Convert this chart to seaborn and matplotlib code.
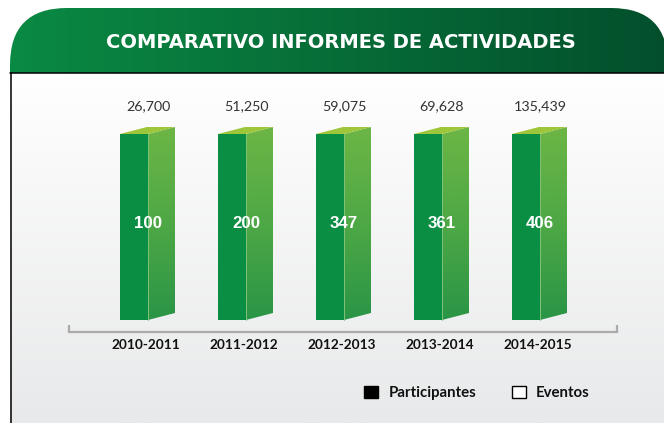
import numpy as np
import matplotlib
matplotlib.use("Agg")
import matplotlib.pyplot as plt
import seaborn as sns
import pandas as pd
from matplotlib.patches import Polygon, FancyBboxPatch, Patch
from matplotlib.colors import LinearSegmentedColormap

# ---- data ----
periodos = ["2010-2011", "2011-2012", "2012-2013", "2013-2014", "2014-2015"]
participantes = [26700, 51250, 59075, 69628, 135439]
eventos = [100, 200, 347, 361, 406]
altura_columna = [1, 1, 1, 1, 1]  # columns are drawn at a uniform height
titulo = "COMPARATIVO INFORMES DE ACTIVIDADES"
leyenda = ["Participantes", "Eventos"]

sns.set_theme(style="white")
plt.rcParams["font.family"] = ["Lato", "DejaVu Sans"]

W, H = 664, 423
fig = plt.figure(figsize=(W / 100, H / 100), dpi=100)
fig.patch.set_facecolor("white")

# ---- background layer in pixel units ----
bg = fig.add_axes([0, 0, 1, 1], zorder=0)
bg.axis("off")

verde_cab = LinearSegmentedColormap.from_list("cab", ["#0a8a43", "#034f2c"])
cabecera = FancyBboxPatch((10, 8), 658, 150,
                          boxstyle="round,pad=0,rounding_size=57",
                          facecolor="none", edgecolor="none")
bg.add_patch(cabecera)
grad_h = np.linspace(0, 1, 256).reshape(1, -1)
im_cab = bg.imshow(grad_h, cmap=verde_cab, extent=(10, 668, 158, 8),
                   aspect="auto", interpolation="bilinear", zorder=1)
im_cab.set_clip_path(cabecera)

fondo = LinearSegmentedColormap.from_list("fondo", ["#ffffff", "#e8e9ea"])
grad_v = np.linspace(0, 1, 256).reshape(-1, 1)
bg.imshow(grad_v, cmap=fondo, extent=(10, 664, 423, 73), origin="upper",
          aspect="auto", interpolation="bilinear", zorder=2)
bg.plot([10, 664], [73.5, 73.5], color="black", lw=1.1, zorder=3)
bg.plot([10.5, 10.5], [73, 423], color="black", lw=1.1, zorder=3)
bg.set_xlim(0, W)
bg.set_ylim(H, 0)

fig.text(340.5 / W, 1 - 48 / H, titulo, color="white", fontsize=14,
         fontweight="bold", family="DejaVu Sans", ha="center", va="baseline")

# ---- columns ----
ax = fig.add_axes([69 / W, 1 - 332 / H, 548 / W, 242 / H], zorder=1)
ax.patch.set_alpha(0)
df = pd.DataFrame({"periodo": periodos, "altura": altura_columna})
ancho = 28 / 98
sns.barplot(data=df, x="periodo", y="altura", width=ancho, color="#0a8e44",
            saturation=1, linewidth=0, ax=ax, zorder=3)
ax.set_xlim(-0.6633, 4.9286)
ax.set_ylim(-12 / 186, 230 / 186)

# depth offset of the 3-D faces, converted from pixels to data units
origen = ax.transData.transform((0, 0))
dx, dy = ax.transData.inverted().transform(origen + np.array([27, 7]))

lateral = LinearSegmentedColormap.from_list("lat", ["#2a9547", "#4ea845", "#6cb645"])
for i, p in enumerate(ax.patches):
    x0 = p.get_x()
    x1 = x0 + p.get_width()
    y0 = p.get_y()
    y1 = y0 + p.get_height()
    cara = Polygon([(x1, y0), (x1 + dx, y0 + dy), (x1 + dx, y1 + dy), (x1, y1)],
                   closed=True, facecolor="none", edgecolor="none")
    ax.add_patch(cara)
    im = ax.imshow(grad_v, cmap=lateral, origin="lower",
                   extent=(x1, x1 + dx, y0, y1 + dy), aspect="auto",
                   interpolation="bilinear", zorder=3)
    im.set_clip_path(cara)
    ax.add_patch(Polygon([(x0, y1), (x1, y1), (x1 + dx, y1 + dy), (x0 + dx, y1 + dy)],
                         closed=True, facecolor="#9dc63b", edgecolor="none", zorder=4))
    ax.plot([x1, x1], [y0, y1], color="#7fc377", lw=0.7, zorder=4)

    ax.annotate(f"{participantes[i]:,}", xy=(x1, y1), xytext=(0, 17.3),
                textcoords="offset points", ha="center", va="baseline",
                fontsize=10.3, color="#333333", family="Lato")
    ax.text(x1, y1 * 0.495, str(eventos[i]), ha="center", va="baseline",
            fontsize=12.2, fontweight="bold", color="white",
            family="Liberation Sans", zorder=5)

ax.set_xlim(-0.6633, 4.9286)
ax.set_ylim(-12 / 186, 230 / 186)
ax.set_xticks([i + ancho / 2 - 0.02 for i in range(len(periodos))], periodos)
ax.set_yticks([])
ax.set_xlabel("")
ax.set_ylabel("")
for lab in ax.get_xticklabels():
    lab.set_fontfamily("Lato")
    lab.set_fontweight("bold")
    lab.set_fontsize(9.8)
    lab.set_color("#111111")
ax.tick_params(axis="x", length=0, pad=5)
for s in ["left", "right", "top"]:
    ax.spines[s].set_visible(False)
ax.spines["bottom"].set_color("#ababab")
ax.spines["bottom"].set_linewidth(1.6)
for xe in (0, 1):
    ax.plot([xe, xe], [0, 7 / 242], transform=ax.transAxes, color="#ababab",
            lw=1.6, clip_on=False, solid_capstyle="butt")

# ---- legend ----
fig.legend(handles=[Patch(facecolor="black", edgecolor="black"),
                    Patch(facecolor="white", edgecolor="black")],
           labels=leyenda, loc="center", bbox_to_anchor=(477 / W, 1 - 393 / H),
           ncol=2, frameon=False, handlelength=0.9, handleheight=0.85,
           handletextpad=0.7, columnspacing=2.4,
           prop=dict(family="Lato", weight="bold", size=10.8), labelcolor="#111111")

fig.savefig("out.png", dpi=100)
